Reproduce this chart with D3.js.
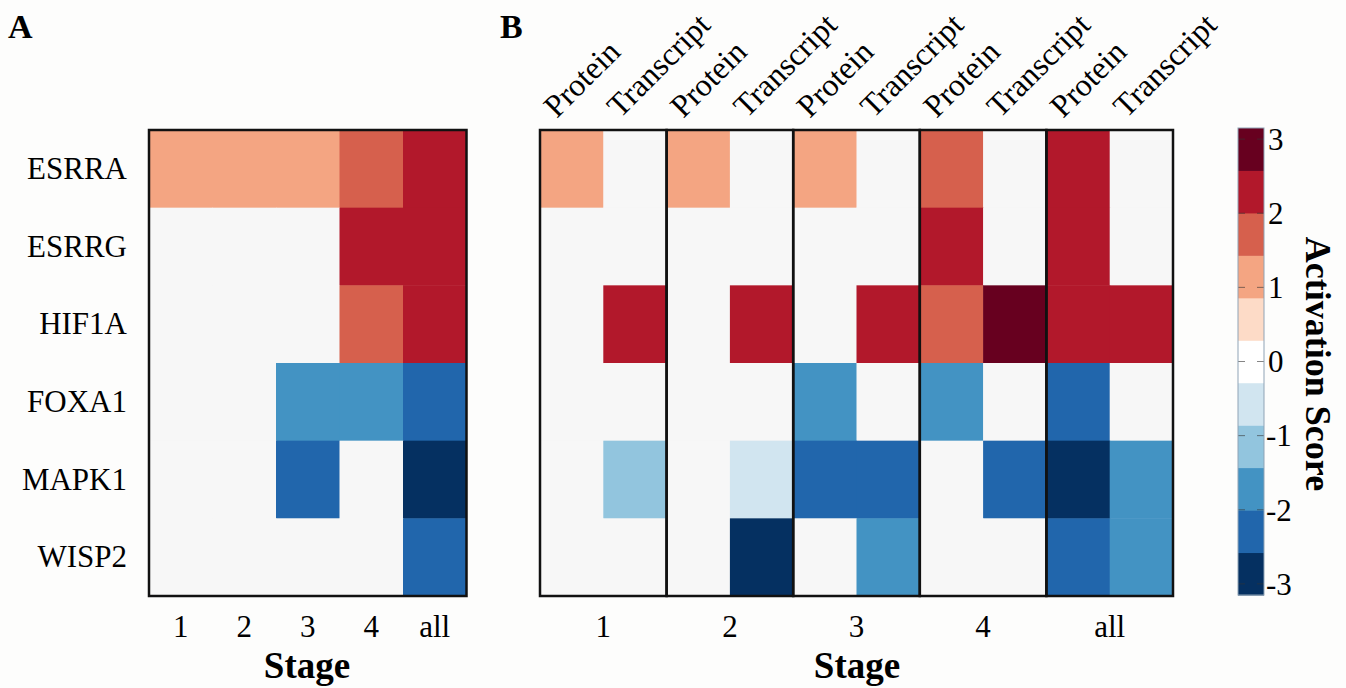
<!DOCTYPE html>
<html>
<head>
<meta charset="utf-8">
<script src="https://cdn.jsdelivr.net/npm/d3@7"></script>
<style>
  html, body { margin: 0; padding: 0; background: #fdfdfc; }
  svg { display: block; font-family: "Liberation Serif", "Times New Roman", serif; }
</style>
</head>
<body>
<script>
const genes = ["ESRRA", "ESRRG", "HIF1A", "FOXA1", "MAPK1", "WISP2"];
const stages = ["1", "2", "3", "4", "all"];
const types = ["Protein", "Transcript"];

// activation scores, rows = genes, columns = stages
const proteinScores = [
  [1.1, 1.1, 1.1, 1.8, 2.3],
  [0, 0, 0, 2.3, 2.3],
  [0, 0, 0, 1.8, 2.3],
  [0, 0, -1.7, -1.7, -2.3],
  [0, 0, -2.3, 0, -3],
  [0, 0, 0, 0, -2.3]
];
const transcriptScores = [
  [0, 0, 0, 0, 0],
  [0, 0, 0, 0, 0],
  [2.3, 2.3, 2.3, 2.9, 2.3],
  [0, 0, 0, 0, 0],
  [-1.2, -0.6, -2.3, -2.3, -1.7],
  [0, -3, -1.7, 0, -1.7]
];
const colorTicks = [3, 2, 1, 0, -1, -2, -3];

const width = 1346, height = 688;
const plotTop = 130, plotBottom = 596;

const svg = d3.create("svg").attr("width", width).attr("height", height);

const color = d3.scaleQuantize()
  .domain([-3.15, 3.15])
  .range(d3.schemeRdBu[11].slice().reverse());

const y = d3.scaleBand().domain(genes).range([plotTop, plotBottom]);

// ---- panel A
const xA = d3.scaleBand().domain(stages).range([149, 466.5]);
const cellsA = [];
genes.forEach((g, i) => stages.forEach((s, j) => cellsA.push({ g, s, v: proteinScores[i][j] })));

svg.append("g").selectAll("rect").data(cellsA).join("rect")
  .attr("x", d => xA(d.s))
  .attr("y", d => y(d.g))
  .attr("width", xA.bandwidth() + 0.5)
  .attr("height", y.bandwidth() + 0.5)
  .attr("fill", d => color(d.v));

svg.append("rect")
  .attr("x", xA.range()[0]).attr("y", plotTop)
  .attr("width", xA.range()[1] - xA.range()[0]).attr("height", plotBottom - plotTop)
  .attr("fill", "none").attr("stroke", "#111").attr("stroke-width", 2.5);

svg.append("g").selectAll("text").data(genes).join("text")
  .attr("x", 127).attr("y", d => y(d) + y.bandwidth() / 2)
  .attr("dy", "0.33em").attr("text-anchor", "end")
  .attr("font-size", 31).text(d => d);

svg.append("g").selectAll("text").data(stages).join("text")
  .attr("x", d => xA(d) + xA.bandwidth() / 2).attr("y", 637)
  .attr("text-anchor", "middle").attr("font-size", 31).text(d => d);

// ---- panel B
const keysB = stages.flatMap(s => types.map(t => s + "|" + t));
const xB = d3.scaleBand().domain(keysB).range([540, 1173]);
const cellsB = [];
genes.forEach((g, i) => stages.forEach((s, j) => {
  cellsB.push({ g, k: s + "|Protein", v: proteinScores[i][j] });
  cellsB.push({ g, k: s + "|Transcript", v: transcriptScores[i][j] });
}));

svg.append("g").selectAll("rect").data(cellsB).join("rect")
  .attr("x", d => xB(d.k))
  .attr("y", d => y(d.g))
  .attr("width", xB.bandwidth() + 0.5)
  .attr("height", y.bandwidth() + 0.5)
  .attr("fill", d => color(d.v));

svg.append("g").selectAll("rect").data(stages).join("rect")
  .attr("x", d => xB(d + "|Protein")).attr("y", plotTop)
  .attr("width", xB.bandwidth() * 2).attr("height", plotBottom - plotTop)
  .attr("fill", "none").attr("stroke", "#111").attr("stroke-width", 2.5);

svg.append("g").selectAll("text").data(keysB).join("text")
  .attr("transform", d => `translate(${xB(d) + xB.bandwidth() / 2 - 15},119) rotate(-45)`)
  .attr("font-size", 32).text(d => d.split("|")[1]);

svg.append("g").selectAll("text").data(stages).join("text")
  .attr("x", d => xB(d + "|Protein") + xB.bandwidth()).attr("y", 637)
  .attr("text-anchor", "middle").attr("font-size", 31).text(d => d);

// ---- axis titles and panel letters
svg.append("text").attr("x", 307).attr("y", 678).attr("text-anchor", "middle")
  .attr("font-size", 37).attr("font-weight", "bold").text("Stage");
svg.append("text").attr("x", 857).attr("y", 678).attr("text-anchor", "middle")
  .attr("font-size", 37).attr("font-weight", "bold").text("Stage");
svg.append("text").attr("x", 8).attr("y", 38)
  .attr("font-size", 34).attr("font-weight", "bold").text("A");
svg.append("text").attr("x", 500).attr("y", 38)
  .attr("font-size", 34).attr("font-weight", "bold").text("B");

// ---- colour bar
const cbX = 1238, cbW = 26;
const cy = d3.scaleLinear().domain(color.domain()).range([plotBottom - 1, 128]);
const bins = color.range().map(c => color.invertExtent(c));

svg.append("g").selectAll("rect").data(bins).join("rect")
  .attr("x", cbX).attr("y", d => cy(d[1]))
  .attr("width", cbW).attr("height", d => cy(d[0]) - cy(d[1]) + 0.5)
  .attr("fill", d => {
    const c = color((d[0] + d[1]) / 2);
    return c === "#f7f7f7" ? "#ffffff" : c;
  });

svg.append("g").selectAll("line").data(colorTicks).join("line")
  .attr("x1", cbX).attr("x2", cbX + 7)
  .attr("y1", d => cy(d)).attr("y2", d => cy(d))
  .attr("stroke", "#333").attr("stroke-opacity", 0.6);
svg.append("g").selectAll("line").data(colorTicks).join("line")
  .attr("x1", cbX + cbW - 7).attr("x2", cbX + cbW)
  .attr("y1", d => cy(d)).attr("y2", d => cy(d))
  .attr("stroke", "#333").attr("stroke-opacity", 0.6);

svg.append("rect")
  .attr("x", cbX).attr("y", 128).attr("width", cbW).attr("height", plotBottom - 1 - 128)
  .attr("fill", "none").attr("stroke", "#8fa3b5").attr("stroke-width", 1);

svg.append("g").selectAll("text").data(colorTicks).join("text")
  .attr("x", d => d < 0 ? 1266 : 1268).attr("y", d => cy(d))
  .attr("dy", "0.35em").attr("font-size", 31).text(d => d);

svg.append("text")
  .attr("transform", "translate(1306,364) rotate(90)")
  .attr("text-anchor", "middle")
  .attr("font-size", 36).attr("font-weight", "bold").text("Activation Score");

document.body.appendChild(svg.node());
</script>
</body>
</html>
